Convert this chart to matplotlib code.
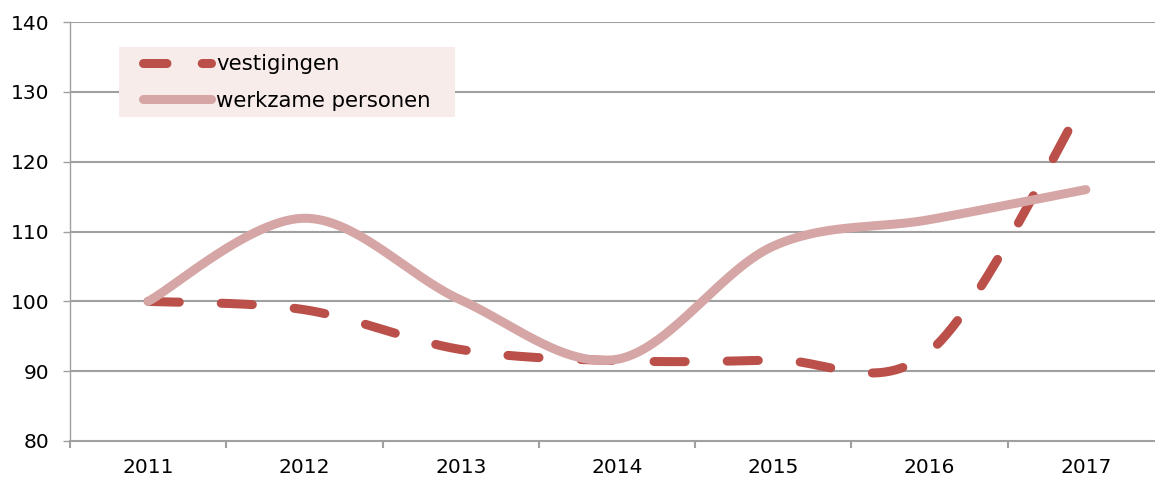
import numpy as np
import matplotlib
matplotlib.use("Agg")
import matplotlib.pyplot as plt
from matplotlib.lines import Line2D
from matplotlib.patches import Rectangle

# Data (index, 2011 = 100)
jaren = ["2011", "2012", "2013", "2014", "2015", "2016", "2017"]
vestigingen = [100.0, 98.8, 93.1, 91.5, 91.6, 92.8, 129.0]
werkzame_personen = [100.0, 111.9, 100.2, 91.7, 107.9, 111.7, 116.0]

kleur_vest = "#BA5049"
kleur_werk = "#D5A6A5"
kleur_grid = "#A0A0A0"


def smooth(y, n=60):
    # Catmull-Rom / Bezier smoothing like a spreadsheet "smoothed line"
    y = np.asarray(y, dtype=float)
    x = np.arange(len(y), dtype=float)
    xs, ys = [], []
    for i in range(len(y) - 1):
        i0 = max(i - 1, 0)
        i3 = min(i + 2, len(y) - 1)
        p0x, p0y = x[i], y[i]
        p3x, p3y = x[i + 1], y[i + 1]
        c1x = p0x + (x[i + 1] - x[i0]) / 6
        c1y = p0y + (y[i + 1] - y[i0]) / 6
        c2x = p3x - (x[i3] - x[i]) / 6
        c2y = p3y - (y[i3] - y[i]) / 6
        t = np.linspace(0, 1, n)
        b0 = (1 - t) ** 3
        b1 = 3 * (1 - t) ** 2 * t
        b2 = 3 * (1 - t) * t ** 2
        b3 = t ** 3
        xs.append(b0 * p0x + b1 * c1x + b2 * c2x + b3 * p3x)
        ys.append(b0 * p0y + b1 * c1y + b2 * c2y + b3 * p3y)
    return np.concatenate(xs), np.concatenate(ys)


W, H = 1155, 479
fig = plt.figure(figsize=(W / 100, H / 100), dpi=100)
ax = fig.add_axes([70 / W, 38 / H, 1094 / W, 419 / H])

lw = 6.5
xv, yv = smooth(vestigingen)
ax.plot(xv, yv, color=kleur_vest, lw=lw, dashes=(3.45, 4.65),
        dash_capstyle="round", solid_capstyle="round", zorder=3)
xw, yw = smooth(werkzame_personen)
ax.plot(xw, yw, color=kleur_werk, lw=lw, solid_capstyle="round", zorder=4)

ax.set_xlim(-0.5, 6.5)
ax.set_ylim(80, 140)
ax.set_yticks(range(80, 141, 10))
ax.set_xticks(np.arange(len(jaren)))
ax.set_xticklabels(jaren)
ax.set_xticks(np.arange(-0.5, 6.6, 1), minor=True)

for v in range(90, 141, 10):
    ax.axhline(v, color=kleur_grid, lw=1.5, zorder=1)

for s in ["top", "right"]:
    ax.spines[s].set_visible(False)
ax.spines["left"].set_color(kleur_grid)
ax.spines["left"].set_linewidth(1.0)
ax.spines["bottom"].set_color(kleur_grid)
ax.spines["bottom"].set_linewidth(1.5)

ax.tick_params(axis="y", length=5, width=1, color=kleur_grid, pad=10,
               labelsize=14.5, labelcolor="black")
ax.tick_params(axis="x", which="major", length=0, pad=12, labelsize=14.5,
               labelcolor="black")
ax.tick_params(axis="x", which="minor", length=5, width=1.5, color=kleur_grid)

# legend background
ax.add_patch(Rectangle((119 / W, 1 - 117 / H), 336 / W, 70 / H,
                       transform=fig.transFigure, facecolor="#F8ECEB",
                       edgecolor="none", zorder=4.5, clip_on=False))

handles = [
    Line2D([], [], color=kleur_vest, lw=lw, dashes=(2.6, 3.9),
           dash_capstyle="round"),
    Line2D([], [], color=kleur_werk, lw=lw, solid_capstyle="round"),
]
leg = ax.legend(handles, ["vestigingen", "werkzame personen"],
                loc="upper left", bbox_to_anchor=(143 / W, 1 - 54 / H),
                bbox_transform=fig.transFigure, fontsize=15.3,
                handlelength=3.2, handletextpad=0.25, labelspacing=0.78,
                borderpad=0, borderaxespad=0, frameon=False)
leg.set_zorder(5)

fig.savefig("out.png", dpi=100)
